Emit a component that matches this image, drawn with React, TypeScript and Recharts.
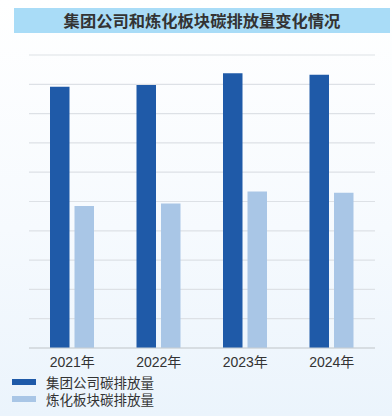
import { Bar, BarChart, CartesianGrid, XAxis, YAxis } from "recharts";

const years = ["2021年", "2022年", "2023年", "2024年"];
const groupEmissions = [8.92, 8.98, 9.38, 9.33];
const refiningEmissions = [4.85, 4.93, 5.34, 5.3];
const gridTicks = [0, 1, 2, 3, 4, 5, 6, 7, 8, 9, 10];

const series = [
  { key: "group", name: "集团公司碳排放量", color: "#1f5aa8" },
  { key: "refining", name: "炼化板块碳排放量", color: "#a9c6e6" },
];

const data = years.map((year, i) => ({
  year,
  group: groupEmissions[i],
  refining: refiningEmissions[i],
}));

const FONT = '"Liberation Sans", "Noto Sans CJK SC", sans-serif';

export default function App() {
  return (
    <div
      style={{
        position: "absolute",
        left: 0,
        top: 0,
        width: 392,
        height: 416,
        background:
          "linear-gradient(180deg, #ffffff 0%, #f6fafe 55%, #ebf4fc 100%)",
        overflow: "hidden",
      }}
    >
      <div
        style={{
          position: "absolute",
          left: 14,
          top: 8,
          width: 376,
          height: 25,
          background: "#a9dcf7",
          color: "#333",
          fontFamily: '"Noto Sans CJK SC", sans-serif',
          fontWeight: 700,
          fontSize: 16.3,
          lineHeight: "25px",
          textAlign: "center",
        }}
      >
        集团公司和炼化板块碳排放量变化情况
      </div>
      <div style={{ position: "absolute", left: 0, top: 0 }}>
        <BarChart
          width={392}
          height={416}
          data={data}
          margin={{ top: 55, right: 17, bottom: 38, left: 29 }}
          barGap={5}
          barSize={19.5}
        >
          <CartesianGrid
            vertical={false}
            stroke="#dde1e6"
            strokeWidth={1.2}
          />
          <YAxis hide domain={[0, 10]} ticks={gridTicks} />
          <XAxis
            dataKey="year"
            axisLine={{ stroke: "#c7cdd4", strokeWidth: 1.2 }}
            tickLine={false}
            tickMargin={3}
            tick={{ fontSize: 14, fill: "#333", fontFamily: FONT }}
          />
          {series.map((s) => (
            <Bar
              key={s.key}
              dataKey={s.key}
              name={s.name}
              fill={s.color}
              isAnimationActive={false}
            />
          ))}
        </BarChart>
      </div>
      <div
        style={{
          position: "absolute",
          left: 12,
          top: 373,
          fontFamily: FONT,
        }}
      >
        {series.map((s) => (
          <div
            key={s.key}
            style={{ display: "flex", alignItems: "center", height: 17 }}
          >
            <span
              style={{
                display: "inline-block",
                width: 24,
                height: 6,
                background: s.color,
                marginRight: 10,
              }}
            />
            <span style={{ fontSize: 13.5, color: "#333" }}>{s.name}</span>
          </div>
        ))}
      </div>
    </div>
  );
}
